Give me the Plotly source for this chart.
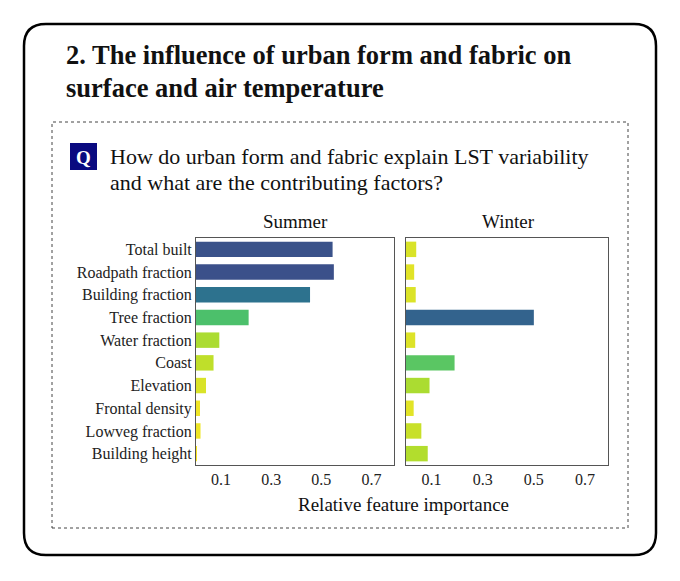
import plotly.graph_objects as go
from plotly.colors import sample_colorscale

features = ["Total built", "Roadpath fraction", "Building fraction", "Tree fraction",
            "Water fraction", "Coast", "Elevation", "Frontal density",
            "Lowveg fraction", "Building height"]
summer = [0.545, 0.55, 0.455, 0.21, 0.093, 0.07, 0.04, 0.016, 0.018, 0.004]
winter = [0.04, 0.032, 0.038, 0.50, 0.036, 0.19, 0.092, 0.03, 0.06, 0.085]
ticks = [0.1, 0.3, 0.5, 0.7]

W, H = 680, 581
OFF = 8  # page body margin
FONT = "Liberation Serif"


def colors(vals):
    return sample_colorscale("Viridis", [max(0.0, 1 - v / 0.73) for v in vals])


def px(x):
    return (x - OFF) / W


def py(y):
    return 1 - (y - OFF) / H


fig = go.Figure()
fig.add_trace(go.Bar(y=features, x=summer, orientation="h", marker=dict(color=colors(summer), line_width=0),
                     width=0.68, xaxis="x", yaxis="y"))
fig.add_trace(go.Bar(y=features, x=winter, orientation="h", marker=dict(color=colors(winter), line_width=0),
                     width=0.68, xaxis="x2", yaxis="y2"))

axis_common = dict(range=[0, 0.79], tickvals=ticks, ticktext=[str(t) for t in ticks],
                   showgrid=False, zeroline=False, showline=True, mirror=True,
                   linecolor="#555", linewidth=1, ticks="", tickfont=dict(size=16, color="#222"))
yaxis_common = dict(categoryorder="array", categoryarray=features[::-1], showgrid=False,
                    showline=True, mirror=True, linecolor="#555", linewidth=1, ticks="",
                    range=[-0.5, 9.5])

fig.update_layout(
    width=W, height=H, margin=dict(l=0, r=0, t=0, b=0),
    paper_bgcolor="white", plot_bgcolor="white", showlegend=False,
    font=dict(family=FONT, color="#222"),
    xaxis=dict(domain=[px(196), px(394)], anchor="y", **axis_common),
    yaxis=dict(domain=[py(465), py(238)], anchor="x", tickfont=dict(size=16, color="#222"), **yaxis_common),
    xaxis2=dict(domain=[px(406), px(608)], anchor="y2", **axis_common),
    yaxis2=dict(domain=[py(465), py(238)], anchor="x2", showticklabels=False, **yaxis_common),
)

# frames
r = 22
x0, y0, x1, y1 = px(24), py(24), px(656), py(555)
rx, ry = r / W, r / H
path = (f"M {x0+rx},{y0} L {x1-rx},{y0} Q {x1},{y0} {x1},{y0-ry} "
        f"L {x1},{y1+ry} Q {x1},{y1} {x1-rx},{y1} L {x0+rx},{y1} Q {x0},{y1} {x0},{y1+ry} "
        f"L {x0},{y0-ry} Q {x0},{y0} {x0+rx},{y0} Z")
fig.add_shape(type="path", path=path, xref="paper", yref="paper", line=dict(color="black", width=2.5))
fig.add_shape(type="rect", xref="paper", yref="paper", x0=px(52), x1=px(628), y0=py(528), y1=py(122),
              line=dict(color="#444", width=1, dash="dot"))
fig.add_shape(type="rect", xref="paper", yref="paper", x0=px(70), x1=px(97), y0=py(170), y1=py(143),
              fillcolor="#0a0a80", line_width=0)

ann = [
    dict(x=px(64), y=py(55), text="<b>2. The influence of urban form and fabric on</b>", size=26.5, xanchor="left"),
    dict(x=px(64), y=py(88), text="<b>surface and air temperature</b>", size=26.5, xanchor="left"),
    dict(x=px(83.5), y=py(157), text="<b>Q</b>", size=19, xanchor="center", color="white"),
    dict(x=px(108), y=py(156), text="How do urban form and fabric explain LST variability", size=22, xanchor="left"),
    dict(x=px(108), y=py(183), text="and what are the contributing factors?", size=22, xanchor="left"),
    dict(x=px(295), y=py(222), text="Summer", size=19, xanchor="center"),
    dict(x=px(508), y=py(222), text="Winter", size=19, xanchor="center"),
    dict(x=px(403), y=py(504), text="Relative feature importance", size=19, xanchor="center"),
]
for a in ann:
    fig.add_annotation(x=a["x"], y=a["y"], xref="paper", yref="paper", text=a["text"], showarrow=False,
                       xanchor=a["xanchor"], yanchor="middle",
                       font=dict(family=FONT, size=a["size"], color=a.get("color", "#111")))

fig.write_html("out.html")
